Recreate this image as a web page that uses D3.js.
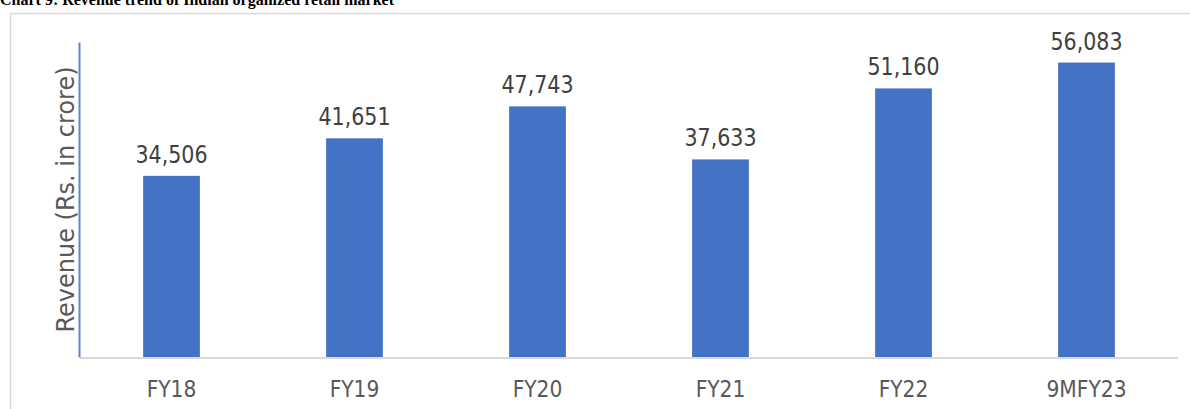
<!DOCTYPE html>
<html>
<head>
<meta charset="utf-8">
<script src="https://cdn.jsdelivr.net/npm/d3@7"></script>
<style>
    body { margin: 0; background: #fff; }
    svg { display: block; }
</style>
</head>
<body>
<div id="chart"></div>
<script>
// data
const categories = ['FY18', 'FY19', 'FY20', 'FY21', 'FY22', '9MFY23'];
const revenue = [34506, 41651, 47743, 37633, 51160, 56083];
const yDomain = [0, 60000];

const chartTitle = 'Chart 9: Revenue trend of Indian organized retail market';
const yTitle = 'Revenue (Rs. in crore)';

const svg = d3.select('#chart')
    .append('svg')
    .attr('width', 1190)
    .attr('height', 409);

// title sits mostly above the top edge of the picture
svg.append('text')
    .attr('x', 0)
    .attr('y', 5)
    .style('font-family', '"Liberation Serif", "Times New Roman", serif')
    .style('font-weight', 'bold')
    .style('font-size', '16px')
    .attr('fill', '#000')
    .text(chartTitle);

// chart frame
svg.append('rect')
    .attr('x', 10.5)
    .attr('y', 13.5)
    .attr('width', 1200)
    .attr('height', 420)
    .attr('fill', 'none')
    .attr('stroke', '#d9d9d9')
    .attr('stroke-width', 1.5);

const margin = { top: 42, left: 80, right: 12, bottom: 52 };
const width = 1190 - margin.left - margin.right;
const height = 409 - margin.top - margin.bottom;

const g = svg.append('g')
    .attr('transform', 'translate(' + margin.left + ',' + margin.top + ')');

const x = d3.scaleBand()
    .domain(categories)
    .range([0, width])
    .paddingInner(0.69)
    .paddingOuter(0.345);

const y = d3.scaleLinear()
    .domain(yDomain)
    .range([height, 0]);

const font = '"DejaVu Sans", Verdana, sans-serif';

// bars
g.selectAll('.bar')
    .data(revenue)
    .enter().append('rect')
    .attr('class', 'bar')
    .attr('x', (d, i) => x(categories[i]))
    .attr('y', d => y(d))
    .attr('width', x.bandwidth())
    .attr('height', d => y(0) - y(d))
    .attr('fill', '#4472c4');

// data labels
g.selectAll('.label')
    .data(revenue)
    .enter().append('text')
    .attr('class', 'label')
    .attr('transform', (d, i) => 'translate(' + (x(categories[i]) + x.bandwidth() / 2) + ',' + (y(d) - 13) + ') scale(0.86,1)')
    .attr('text-anchor', 'middle')
    .style('font-family', font)
    .style('font-size', '24px')
    .attr('fill', '#404040')
    .text(d => d3.format(',')(d));

// x axis
const xAxis = g.append('g')
    .attr('class', 'axis axis--x')
    .attr('transform', 'translate(0,' + height + ')')
    .call(d3.axisBottom(x).tickSize(0).tickPadding(0));

xAxis.select('.domain')
    .attr('stroke', '#d9d9d9')
    .attr('stroke-width', 2)
    .attr('d', 'M0,1H' + width + 'V1');

xAxis.selectAll('.tick text')
    .attr('y', 0)
    .attr('dy', 0)
    .attr('transform', 'translate(0,40) scale(0.88,1)')
    .style('font-family', font)
    .style('font-size', '23px')
    .attr('fill', '#595959');

// y axis: only the line is shown
const yAxis = g.append('g')
    .attr('class', 'axis axis--y')
    .call(d3.axisLeft(y).tickValues([]).tickSizeOuter(0));

yAxis.select('.domain')
    .attr('stroke', '#5b86d0')
    .attr('stroke-width', 2)
    .attr('transform', 'translate(-1,0)');

g.append('text')
    .attr('transform', 'translate(-6,' + (height / 2) + ') rotate(-90) scale(0.96,1)')
    .attr('text-anchor', 'middle')
    .style('font-family', font)
    .style('font-size', '25px')
    .attr('fill', '#595959')
    .text(yTitle);
</script>
</body>
</html>
